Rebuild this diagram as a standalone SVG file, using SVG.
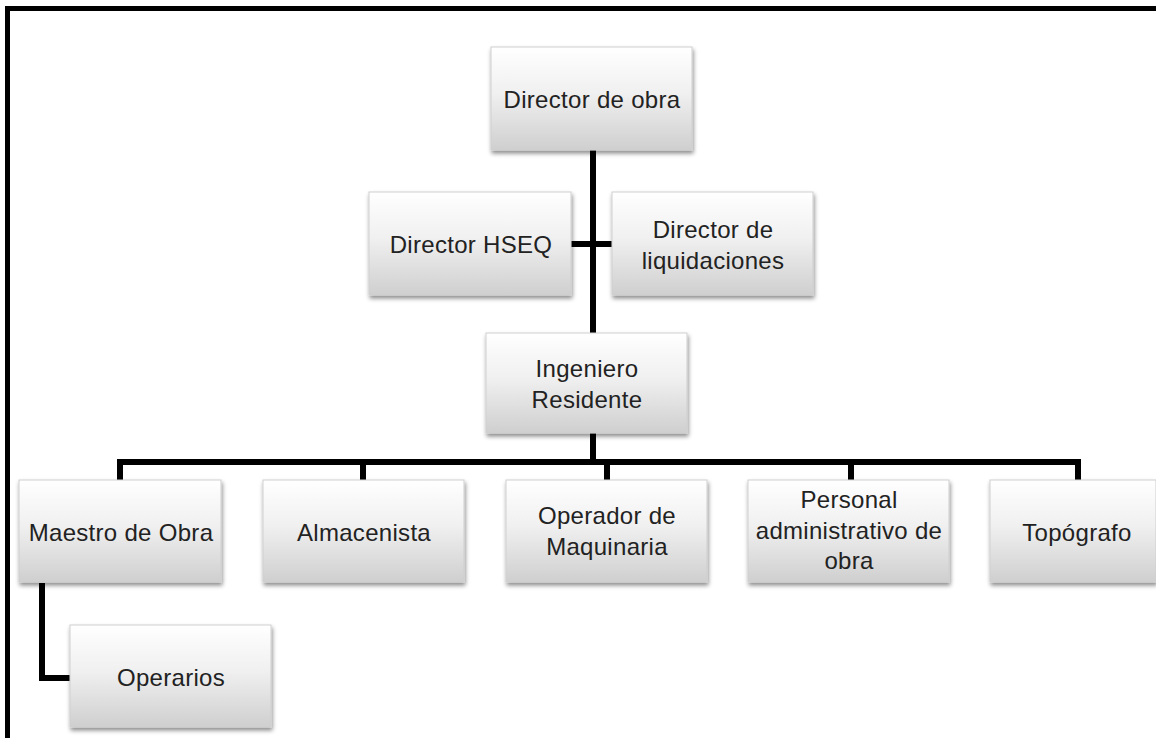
<svg xmlns="http://www.w3.org/2000/svg" width="1156" height="738" viewBox="0 0 1156 738">
<defs>
<linearGradient id="g" x1="0" y1="0" x2="0" y2="1">
<stop offset="0" stop-color="#ffffff"/>
<stop offset="0.45" stop-color="#f0f0f0"/>
<stop offset="1" stop-color="#cfcfcf"/>
</linearGradient>
<filter id="sh" x="-10%" y="-10%" width="125%" height="130%">
<feDropShadow dx="1" dy="3" stdDeviation="2" flood-color="#000" flood-opacity="0.45"/>
</filter>
<style>
.box{fill:url(#g);stroke:#cfcfcf;stroke-width:1;filter:url(#sh)}
.t{font-family:"Liberation Sans",Arial,sans-serif;font-size:24px;letter-spacing:0.3px;fill:#222;text-anchor:middle}
.c{fill:none;stroke:#000;stroke-width:6;stroke-linecap:butt;stroke-linejoin:miter}
</style>
</defs>
<rect width="1156" height="738" fill="#fff"/>
<path d="M7.5,738 V8.5 H1156" fill="none" stroke="#000" stroke-width="5"/>
<g id="connectors">
<path class="c" d="M593,150 V333" stroke-width="7"/>
<path class="c" d="M571,244 H612"/>
<path class="c" d="M593,433 V462"/>
<path class="c" d="M120,480 V462 H1078 V480"/>
<path class="c" d="M363,462 V480"/>
<path class="c" d="M607,462 V480"/>
<path class="c" d="M851,462 V480"/>
<path class="c" d="M42,583 V678 H70" stroke-width="5"/>
</g>
<g id="n-director-obra"><rect class="box" x="491" y="47" width="201" height="103"/><text class="t" x="592" y="108">Director de obra</text></g>
<g id="n-hseq"><rect class="box" x="369" y="192" width="202" height="103"/><text class="t" x="471" y="253">Director HSEQ</text></g>
<g id="n-liquidaciones"><rect class="box" x="612" y="192" width="201" height="103"/><text class="t" x="713" y="238">Director de</text><text class="t" x="713" y="269">liquidaciones</text></g>
<g id="n-ingeniero"><rect class="box" x="486" y="333" width="201" height="100"/><text class="t" x="587" y="377">Ingeniero</text><text class="t" x="587" y="408">Residente</text></g>
<g id="n-maestro"><rect class="box" x="19" y="480" width="202" height="102"/><text class="t" x="121" y="541">Maestro de Obra</text></g>
<g id="n-almacenista"><rect class="box" x="263" y="480" width="201" height="102"/><text class="t" x="364" y="541">Almacenista</text></g>
<g id="n-operador"><rect class="box" x="506" y="480" width="201" height="102"/><text class="t" x="607" y="524">Operador de</text><text class="t" x="607" y="555">Maquinaria</text></g>
<g id="n-personal"><rect class="box" x="748" y="480" width="201" height="102"/><text class="t" x="849" y="508">Personal</text><text class="t" x="849" y="539">administrativo de</text><text class="t" x="849" y="569">obra</text></g>
<g id="n-topografo"><rect class="box" x="990" y="480" width="166" height="102"/><text class="t" x="1077" y="541">Topógrafo</text></g>
<g id="n-operarios"><rect class="box" x="70" y="625" width="201" height="102"/><text class="t" x="171" y="686">Operarios</text></g>
</svg>
